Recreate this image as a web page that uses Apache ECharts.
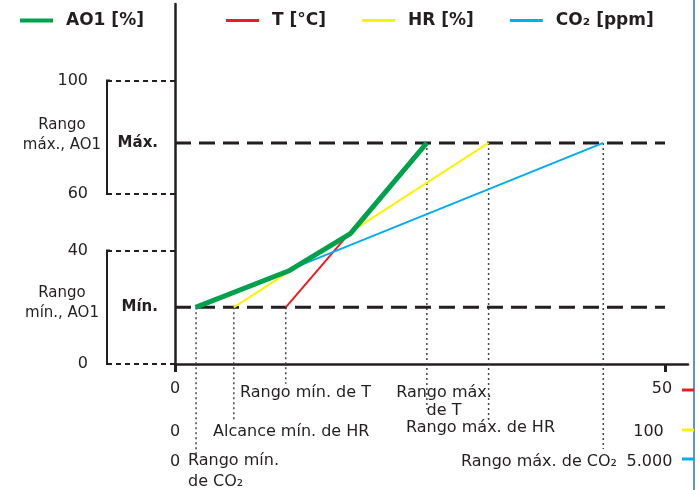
<!DOCTYPE html>
<html><head><meta charset="utf-8">
<script src="https://cdn.jsdelivr.net/npm/echarts@6/dist/echarts.min.js"></script>
<style>html,body{margin:0;padding:0;background:#fff}#c{width:700px;height:490px}</style>
</head><body><div id="c"></div>
<script>
// ---- data ----
const aoTicks = [0, 40, 60, 100];          // AO1 [%] tick labels
const aoMin = 20;                           // "Mín." level
const aoMax = 78;                           // "Máx." level
const tTicks = [0, 50];                     // T [°C]
const hrTicks = [0, 100];                   // HR [%]
const co2Ticks = [0, 5000];                 // CO2 [ppm]
const co2TickText = ['0', '5.000'];
const tRange = [11.3, 25.7];                // T min / max range
const hrRange = [12, 64];                   // HR min / max range
const co2Range = [215, 4370];               // CO2 min / max range
const ao1T = [2.1, 11.7, 17.9, 25.7];       // AO1 curve, x in °C scale
const ao1Val = [20, 33, 46, 78];            // AO1 curve values
const names = ['AO1 [%]', 'T [°C]', 'HR [%]', 'CO₂ [ppm]'];

// ---- layout / style ----
const ink = '#231f20';
const colors = { ao: '#00a14b', t: '#ed1c24', hr: '#fff200', co2: '#00aeef' };
const FONT = 'DejaVu Sans';
const ext = 513 / 490;    // axis line runs a bit beyond the last tick
const drop = { co2Min: -33, hrMin: -20, tMin: -7, tMax: -16, hrMax: -20, co2Max: -30 };

const chart = echarts.init(document.getElementById('c'), null, { renderer: 'canvas' });

function xAxisCfg(ticks, labels, offset, showLine, pad) {
  return {
    type: 'value', min: 0, max: ticks[1] * ext, offset: offset, position: 'bottom',
    axisLine: { show: showLine, lineStyle: { color: ink, width: 2.5 } },
    axisTick: { show: showLine, customValues: ticks, length: 8, lineStyle: { color: ink, width: 3 } },
    axisLabel: {
      customValues: ticks, margin: 17, color: ink, fontFamily: FONT, fontSize: 16,
      formatter: v => (v === ticks[1] ? '{m|' + labels[1] + '}' : '{n|' + labels[0] + '}'),
      rich: {
        m: { fontFamily: FONT, fontSize: 16, color: ink, padding: [0, pad, 0, 0] },
        n: { fontFamily: FONT, fontSize: 16, color: ink }
      }
    },
    splitLine: { show: false }
  };
}

function seg(name, xi, pts, color, width, type, z) {
  return {
    name: name, type: 'line', xAxisIndex: xi, data: pts, symbol: 'none', silent: true,
    clip: false, color: color, z: z || 2,
    lineStyle: { color: color, width: width, type: type || 'solid' }, animation: false
  };
}

const levelPts = v => [[0, v], [tTicks[1], v]];
const series = [
  seg('', 0, levelPts(aoMax), ink, 3, [16, 8], 1),
  seg('', 0, levelPts(aoMin), ink, 3, [16, 8], 1),
  seg('', 2, [[co2Range[0], aoMin], [co2Range[0], drop.co2Min]], '#444', 1.5, [2, 3], 1),
  seg('', 1, [[hrRange[0], aoMin], [hrRange[0], drop.hrMin]], '#444', 1.5, [2, 3], 1),
  seg('', 0, [[tRange[0], aoMin], [tRange[0], drop.tMin]], '#444', 1.5, [2, 3], 1),
  seg('', 0, [[tRange[1], aoMax], [tRange[1], drop.tMax]], '#444', 1.5, [2, 3], 1),
  seg('', 1, [[hrRange[1], aoMax], [hrRange[1], drop.hrMax]], '#444', 1.5, [2, 3], 1),
  seg('', 2, [[co2Range[1], aoMax], [co2Range[1], drop.co2Max]], '#444', 1.5, [2, 3], 1),
  seg(names[1], 0, [[tRange[0], aoMin], [tRange[1], aoMax]], colors.t, 2, 'solid', 3),
  seg(names[2], 1, [[hrRange[0], aoMin], [hrRange[1], aoMax]], colors.hr, 2, 'solid', 3),
  seg(names[3], 2, [[co2Range[0], aoMin], [co2Range[1], aoMax]], colors.co2, 2, 'solid', 3),
  seg(names[0], 0, ao1T.map((x, i) => [x, ao1Val[i]]), colors.ao, 5, 'solid', 4)
];

const legendText = { fontFamily: FONT, fontSize: 17, fontWeight: 'bold', color: ink, padding: [0, 0, 0, 8] };

chart.setOption({
  animation: false,
  grid: { left: 175, right: 12, top: 4, bottom: 126, containLabel: false },
  legend: [
    { data: [names[0]], left: 15, top: 7, icon: 'rect', itemWidth: 33, itemHeight: 4,
      selectedMode: false, textStyle: legendText },
    { data: names.slice(1), left: 221, top: 7, icon: 'rect', itemWidth: 33, itemHeight: 3,
      itemGap: 36, selectedMode: false, textStyle: legendText }
  ],
  xAxis: [
    xAxisCfg(tTicks, ['0', '50'], 0, true, 6),
    xAxisCfg(hrTicks, ['0', '100'], 43, false, 33),
    xAxisCfg(co2Ticks, co2TickText, 73, false, 31)
  ],
  yAxis: {
    type: 'value', min: 0, max: 127,
    axisLine: { show: true, lineStyle: { color: ink, width: 2.5 } },
    axisTick: { customValues: aoTicks, length: 70, lineStyle: { color: ink, width: 2, type: [5, 4] } },
    axisLabel: { customValues: aoTicks, margin: 87, color: ink, fontFamily: FONT, fontSize: 16 },
    splitLine: { show: false }
  },
  series: series
});

// ---- annotations placed through the axes ----
const py = v => chart.convertToPixel({ yAxisIndex: 0 }, v);
const txt = (text, x, y, align, opts) => ({
  type: 'text', x: x, y: y, silent: true,
  style: Object.assign({ text: text, fill: ink, font: '16px "' + FONT + '"', align: align || 'left',
    verticalAlign: 'middle', lineHeight: 19 }, (opts || {}))
});
const ln = (x1, y1, x2, y2, color, w) => ({
  type: 'line', silent: true, shape: { x1: x1, y1: y1, x2: x2, y2: y2 },
  style: { stroke: color, lineWidth: w }
});
const yMax = py(aoMax), yMin = py(aoMin);
const y100 = py(aoTicks[3]), y60 = py(aoTicks[2]), y40 = py(aoTicks[1]), y0 = py(aoTicks[0]);
const small = '15px "' + FONT + '"';
const graphics = [
  ln(694, 0, 694, 490, '#2f6fae', 1.5),
  ln(682, 390, 694, 390, colors.t, 3),
  ln(682, 430, 694, 430, colors.hr, 3),
  ln(682, 459, 694, 459, colors.co2, 3),
  { type: 'polyline', silent: true, shape: { points: [[110, y100], [107, y100], [107, y60], [110, y60]] },
    style: { stroke: ink, lineWidth: 2, fill: null } },
  { type: 'polyline', silent: true, shape: { points: [[110, y40], [107, y40], [107, y0], [110, y0]] },
    style: { stroke: ink, lineWidth: 2, fill: null } },
  txt('Rango\nmáx., AO1', 62, (y100 + y60) / 2 - 2, 'center', { lineHeight: 20, font: small }),
  txt('Rango\nmín., AO1', 62, (y40 + y0) / 2 - 4, 'center', { lineHeight: 20, font: small }),
  txt('Máx.', 158, yMax, 'right', { font: 'bold 15px "' + FONT + '"' }),
  txt('Mín.', 158, yMin, 'right', { font: 'bold 15px "' + FONT + '"' }),
  txt('Rango mín. de T', 240, 393, 'left'),
  txt('Rango máx.\nde T', 444, 402, 'center', { lineHeight: 18 }),
  txt('Alcance mín. de HR', 213, 432, 'left'),
  txt('Rango máx. de HR', 406, 428, 'left'),
  txt('Rango mín.\nde CO₂', 188, 471, 'left', { lineHeight: 21 }),
  txt('Rango máx. de CO₂', 617, 462, 'right')
];
chart.setOption({ graphic: graphics });
</script>
</body></html>
